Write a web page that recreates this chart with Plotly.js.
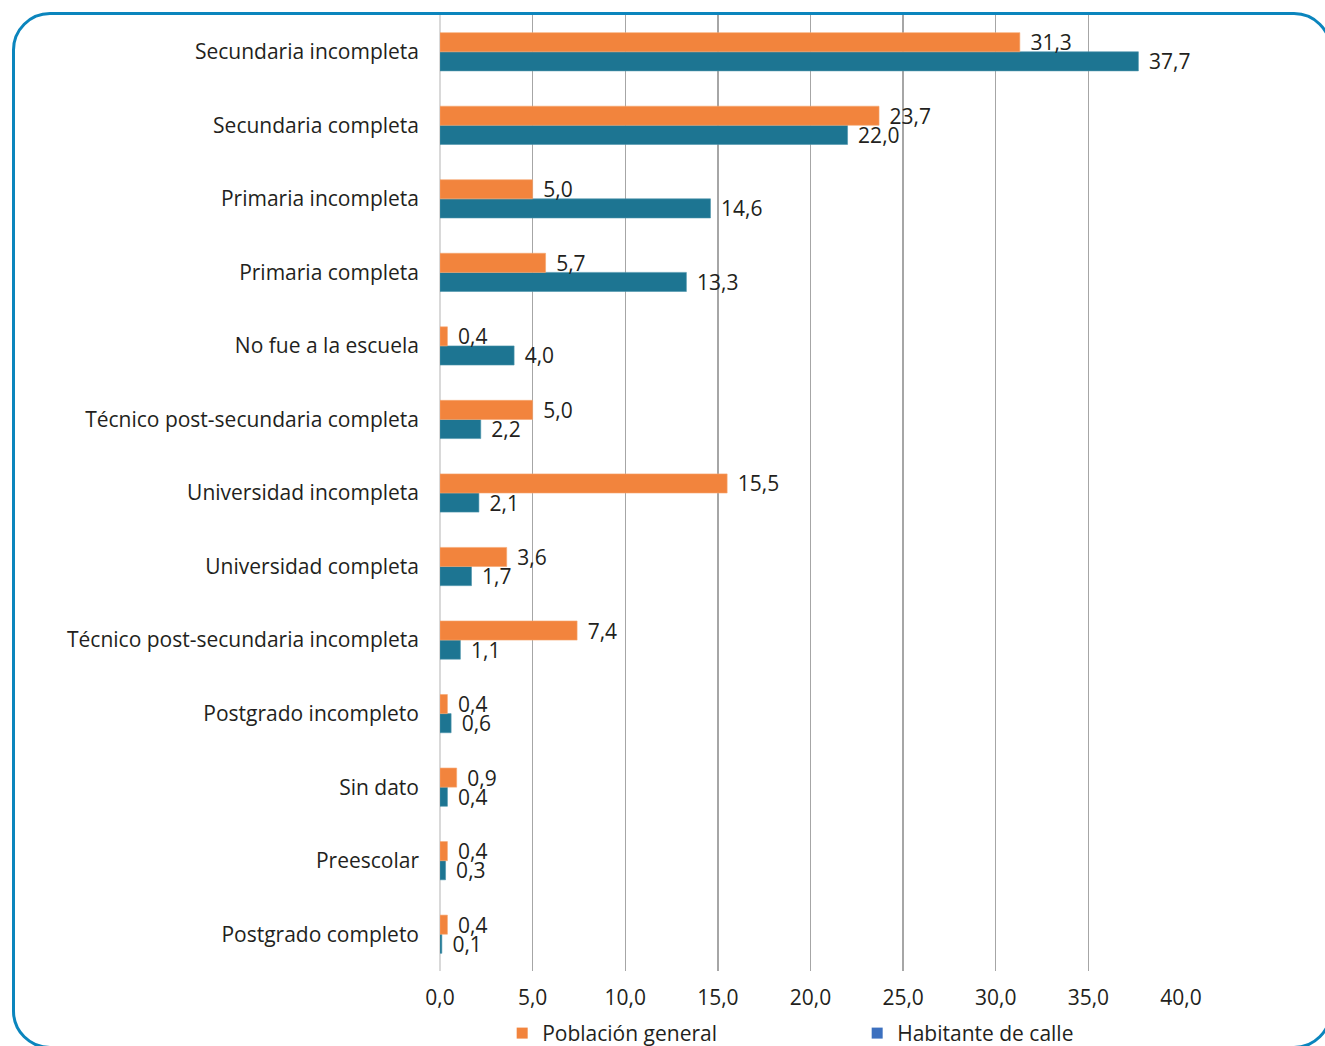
<!DOCTYPE html>
<html>
<head>
<meta charset="utf-8">
<script src="https://cdn.plot.ly/plotly-3.0.1.min.js"></script>
<style>
  html, body { margin: 0; padding: 0; background: #ffffff; overflow: hidden; }
  #wrap { position: relative; width: 1325px; height: 1046px; overflow: hidden; }
  #chart { position: absolute; left: 0; top: 0; width: 1325px; height: 1046px; }
  #frame {
    position: absolute; left: 12px; top: 12px; width: 1320px; height: 1037px;
    border: 3px solid #0b85bd; border-radius: 38px; box-sizing: border-box;
    pointer-events: none;
  }
</style>
</head>
<body>
<div id="wrap">
  <div id="chart"></div>
  <div id="frame"></div>
</div>
<script>
// Nivel educativo: población general vs. habitante de calle (%)
const categories = [
  "Secundaria incompleta",
  "Secundaria completa",
  "Primaria incompleta",
  "Primaria completa",
  "No fue a la escuela",
  "Técnico post-secundaria completa",
  "Universidad incompleta",
  "Universidad completa",
  "Técnico post-secundaria incompleta",
  "Postgrado incompleto",
  "Sin dato",
  "Preescolar",
  "Postgrado completo"
];
const poblacionGeneral = [31.3, 23.7, 5.0, 5.7, 0.4, 5.0, 15.5, 3.6, 7.4, 0.4, 0.9, 0.4, 0.4];
const habitanteCalle   = [37.7, 22.0, 14.6, 13.3, 4.0, 2.2, 2.1, 1.7, 1.1, 0.6, 0.4, 0.3, 0.1];
const seriesNames = ["Población general", "Habitante de calle"];
const xTicks = [0, 5, 10, 15, 20, 25, 30, 35, 40];

const ORANGE = "#f2843d";
const TEAL = "#1d7592";
const LEGEND_BLUE = "#3c70bf";
const FONT = "Open Sans, sans-serif";
const TEXT_COLOR = "#231f20";
const FS = 21;

// Comma decimal labels, pushed a little away from the bar end
const fmt = v => "\u00a0\u200a" + v.toFixed(1).replace(".", ",");

const barCommon = {
  type: "bar",
  orientation: "h",
  textposition: "outside",
  constraintext: "none",
  cliponaxis: false,
  textfont: { family: FONT, size: FS, color: TEXT_COLOR },
  showlegend: false,
  hoverinfo: "x+y"
};

// horizontal groups stack bottom-up, so the lower bar comes first
const traces = [
  Object.assign({}, barCommon, {
    name: seriesNames[1],
    y: categories, x: habitanteCalle,
    text: habitanteCalle.map(fmt),
    marker: { color: TEAL, line: { color: "#4b93ab", width: 0.6 } }
  }),
  Object.assign({}, barCommon, {
    name: seriesNames[0],
    y: categories, x: poblacionGeneral,
    text: poblacionGeneral.map(fmt),
    marker: { color: ORANGE, line: { color: "#f7a66f", width: 0.6 } }
  }),
  // legend entries (square keys)
  {
    type: "scatter", mode: "markers", name: seriesNames[0],
    x: [null], y: [null], hoverinfo: "skip",
    marker: { symbol: "square", size: 11, color: ORANGE }
  },
  {
    type: "scatter", mode: "markers", name: seriesNames[1],
    x: [null], y: [null], hoverinfo: "skip",
    marker: { symbol: "square", size: 11, color: LEGEND_BLUE }
  }
];

const layout = {
  width: 1325,
  height: 1046,
  margin: { l: 440, r: 144, t: 15, b: 75 },
  paper_bgcolor: "rgba(0,0,0,0)",
  plot_bgcolor: "rgba(0,0,0,0)",
  separators: ",.",
  barmode: "group",
  bargap: 0.48,
  bargroupgap: 0,
  font: { family: FONT, size: FS, color: TEXT_COLOR },
  xaxis: {
    range: [0, 40],
    tickvals: xTicks,
    tickformat: ".1f",
    showgrid: true,
    gridcolor: "#a6a6a6",
    gridwidth: 1.3,
    zeroline: true,
    zerolinecolor: "#d9d9d9",
    zerolinewidth: 1.5,
    showline: false,
    ticks: "",
    ticklabelstandoff: 12,
    tickfont: { family: FONT, size: FS, color: TEXT_COLOR },
    fixedrange: true
  },
  yaxis: {
    type: "category",
    categoryorder: "array",
    categoryarray: categories.slice().reverse(),
    autorange: false,
    range: [-0.5, categories.length - 0.5],
    showgrid: false,
    zeroline: false,
    showline: false,
    ticks: "",
    ticklabelstandoff: 20,
    tickfont: { family: FONT, size: FS, color: TEXT_COLOR },
    fixedrange: true
  },
  legend: {
    orientation: "h",
    xref: "container", yref: "container",
    x: 0.379, xanchor: "left",
    y: 0.012, yanchor: "middle",
    traceorder: "normal",
    entrywidth: 310,
    entrywidthmode: "pixels",
    itemwidth: 30,
    font: { family: FONT, size: FS, color: TEXT_COLOR },
    bgcolor: "rgba(0,0,0,0)"
  },
  showlegend: true
};

Plotly.newPlot("chart", traces, layout, { displayModeBar: false, staticPlot: true });
</script>
</body>
</html>
